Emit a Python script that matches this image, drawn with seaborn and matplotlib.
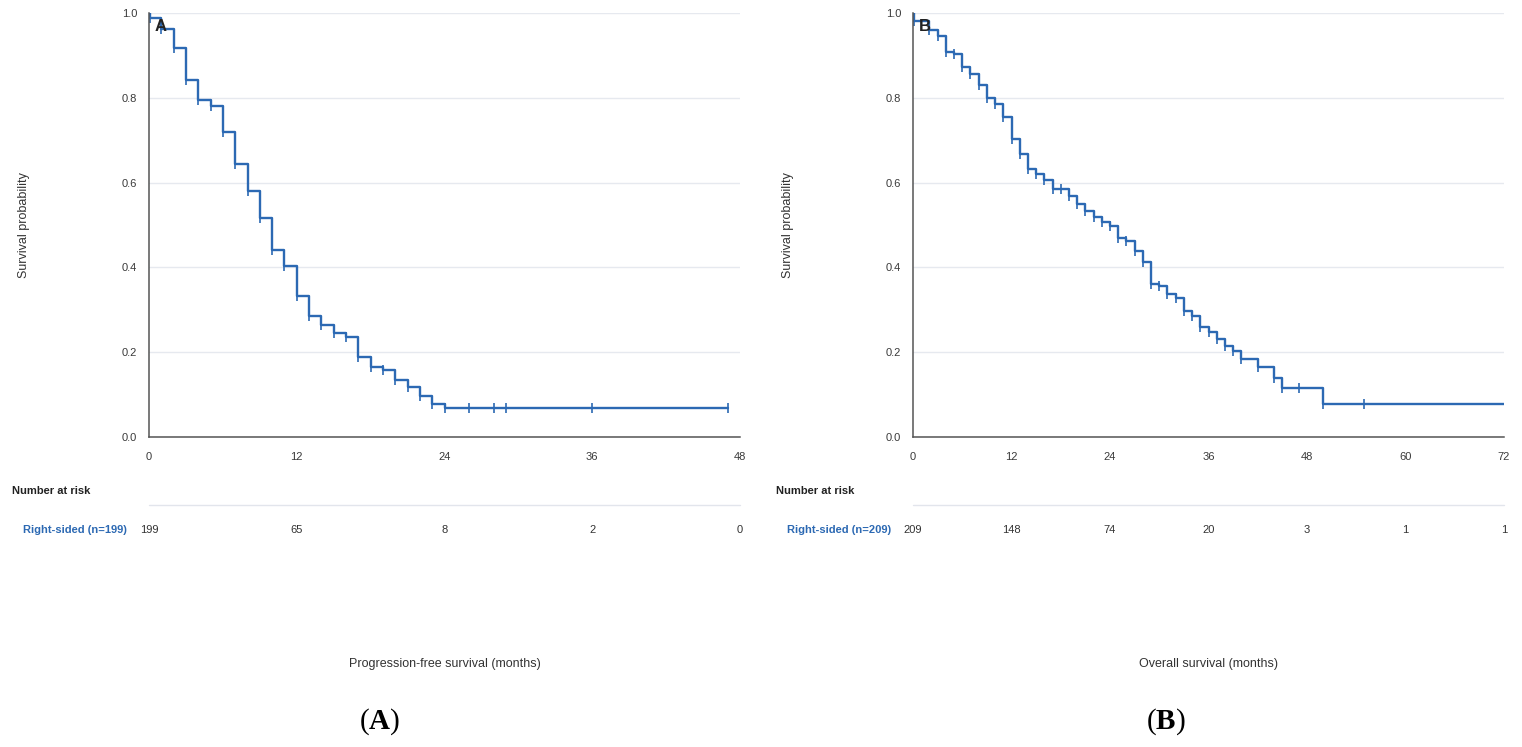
import matplotlib
matplotlib.use('Agg')
import matplotlib.pyplot as plt
import matplotlib.transforms as mtransforms
import numpy as np
import pandas as pd
import seaborn as sns

# Panel A: progression-free survival (months) - time of each drop and survival after it
pfs_times = [0, 0.1, 1, 2, 3, 4, 5, 6, 7, 8, 9, 10, 11, 12, 13, 14, 15, 16, 17, 18, 19, 20, 21, 22, 23, 24]
pfs_surv = [1.0, 0.988, 0.962, 0.917, 0.842, 0.795, 0.780, 0.720, 0.644, 0.580, 0.517, 0.442, 0.404,
            0.332, 0.285, 0.264, 0.245, 0.235, 0.189, 0.166, 0.157, 0.134, 0.117, 0.097, 0.078, 0.068]
pfs_end = 47
pfs_censored = [26, 28, 29, 36, 47]
pfs_risk_times = [0, 12, 24, 36, 48]
pfs_at_risk = [199, 65, 8, 2, 0]

# Panel B: overall survival (months)
os_times = [0, 0.1, 2, 3, 4, 5, 6, 7, 8, 9, 10, 11, 12, 13, 14, 15, 16, 17, 19, 20, 21, 22, 23, 24,
            25, 26, 27, 28, 29, 30, 31, 32, 33, 34, 35, 36, 37, 38, 39, 40, 42, 44, 45, 50]
os_surv = [1.0, 0.982, 0.960, 0.945, 0.907, 0.903, 0.873, 0.856, 0.830, 0.800, 0.785, 0.755, 0.704,
           0.668, 0.632, 0.621, 0.605, 0.585, 0.569, 0.550, 0.532, 0.518, 0.506, 0.497, 0.469, 0.462,
           0.438, 0.412, 0.362, 0.355, 0.337, 0.327, 0.296, 0.285, 0.259, 0.247, 0.231, 0.215, 0.202,
           0.184, 0.164, 0.140, 0.116, 0.077]
os_end = 72
os_censored = [18, 47, 55]
os_risk_times = [0, 12, 24, 36, 48, 60, 72]
os_at_risk = [209, 148, 74, 20, 3, 1, 1]

BLUE = '#2c69b3'
DARK = '#3a3a3a'

sns.set_style('white')
plt.rcParams['font.family'] = ['Liberation Sans', 'DejaVu Sans']
plt.rcParams['mathtext.fontset'] = 'custom'
plt.rcParams['mathtext.bf'] = 'Liberation Serif:bold'
plt.rcParams['mathtext.rm'] = 'Liberation Serif'

W, H = 1522, 747
fig = plt.figure(figsize=(W / 100, H / 100), dpi=100)


def step_value(times, surv, t):
    idx = np.searchsorted(times, t, side='right') - 1
    return surv[idx]


def draw_panel(left_px, times, surv, end, censored, xmax, risk_times, at_risk,
               group, xlabel, letter):
    ax = fig.add_axes([left_px / W, (H - 437) / H, 591 / W, 424 / H])

    curve = pd.DataFrame({'time': times + [end], 'surv': surv + [surv[-1]]})
    sns.lineplot(data=curve, x='time', y='surv', drawstyle='steps-post', color=BLUE,
                 lw=1.7, estimator=None, sort=False, ax=ax)

    # small ticks at every drop and at censored times
    marks = pd.DataFrame({
        'time': times[1:] + censored,
        'surv': surv[1:] + [step_value(times, surv, c) for c in censored],
    })
    ax.plot(marks['time'], marks['surv'], ls='none', marker='|', ms=6.5, mew=1.2, color=BLUE,
            clip_on=False)

    ax.set_xlim(0, xmax)
    ax.set_ylim(0, 1.0)
    ax.set_xticks(risk_times)
    ax.set_yticks([0, 0.2, 0.4, 0.6, 0.8, 1.0])
    ax.set_yticklabels(['0.0', '0.2', '0.4', '0.6', '0.8', '1.0'])
    ax.tick_params(axis='both', labelsize=8, colors=DARK, length=3.5, width=1, pad=5)
    ax.tick_params(axis='x', pad=7)
    ax.yaxis.grid(True, color='#e6e9ef', lw=1)
    ax.set_axisbelow(True)
    for side in ['top', 'right']:
        ax.spines[side].set_visible(False)
    for side in ['left', 'bottom']:
        ax.spines[side].set_color('#555555')
        ax.spines[side].set_linewidth(1.1)

    ax.set_xlabel('')
    ax.set_ylabel('Survival probability', fontsize=9, color='#333333')
    ax.yaxis.set_label_coords(-0.2014, 0.5)

    ax.text(0.01, 0.985, letter, transform=ax.transAxes, fontsize=12, fontweight='bold',
            color='#222222', va='top', ha='left')

    # number-at-risk table below the axes
    tx = mtransforms.blended_transform_factory(ax.transData, fig.transFigure)
    ta = mtransforms.blended_transform_factory(ax.transAxes, fig.transFigure)
    ax.text(-0.2318, 1 - 491 / H, 'Number at risk', transform=ta, fontsize=8,
            fontweight='bold', color='#222222', va='center', ha='left')
    ax.plot([0, xmax], [1 - 505 / H] * 2, transform=tx, color='#e2e5ec', lw=1, clip_on=False)
    ax.text(-22 / 591, 1 - 530 / H, group, transform=ta, fontsize=8, fontweight='bold',
            color=BLUE, va='center', ha='right')
    for t, n in zip(risk_times, at_risk):
        ax.text(t, 1 - 530 / H, str(n), transform=tx, fontsize=8, color='#333333',
                va='center', ha='center')

    ax.text(xmax / 2, 1 - 664 / H, xlabel, transform=tx, fontsize=9, color='#333333',
            va='center', ha='center')
    return ax


draw_panel(149, pfs_times, pfs_surv, pfs_end, pfs_censored, 48, pfs_risk_times, pfs_at_risk,
           'Right-sided (n=199)', 'Progression-free survival (months)', 'A')
draw_panel(913, os_times, os_surv, os_end, os_censored, 72, os_risk_times, os_at_risk,
           'Right-sided (n=209)', 'Overall survival (months)', 'B')

fig.text(380 / W, 1 - 722 / H, r'($\mathbf{A}$)', fontsize=21, family='Liberation Serif',
         ha='center', va='center', color='black')
fig.text(1166 / W, 1 - 722 / H, r'($\mathbf{B}$)', fontsize=21, family='Liberation Serif',
         ha='center', va='center', color='black')

fig.savefig('out.png', dpi=100)
